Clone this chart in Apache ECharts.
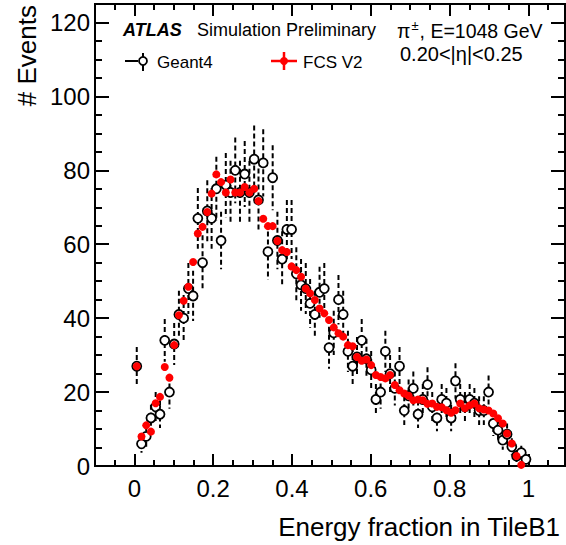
<!DOCTYPE html>
<html>
<head>
<meta charset="utf-8">
<script src="https://cdn.jsdelivr.net/npm/echarts@6/dist/echarts.min.js"></script>
<style>
html,body{margin:0;padding:0;background:#fff;}
#chart{width:566px;height:545px;}
</style>
</head>
<body>
<div id="chart"></div>
<script>
// Bin centres (84 bins between 0 and 1)
const binCenters = [0.006,0.018,0.030,0.042,0.054,0.065,0.077,0.089,0.101,0.113,
  0.125,0.137,0.149,0.161,0.173,0.185,0.196,0.208,0.220,0.232,
  0.244,0.256,0.268,0.280,0.292,0.304,0.315,0.327,0.339,0.351,
  0.363,0.375,0.387,0.399,0.411,0.423,0.435,0.446,0.458,0.470,
  0.482,0.494,0.506,0.518,0.530,0.542,0.554,0.565,0.577,0.589,
  0.601,0.613,0.625,0.637,0.649,0.661,0.673,0.685,0.696,0.708,
  0.720,0.732,0.744,0.756,0.768,0.780,0.792,0.804,0.815,0.827,
  0.839,0.851,0.863,0.875,0.887,0.899,0.911,0.923,0.935,0.946,
  0.958,0.970,0.982,0.994];

// Geant4 events per bin
const geant4 = [27,6,8,13,16,14,34,20,33,41,
  40,48,46,67,55,69,67,75,61,76,
  74,80,74,79,74,83,72,82,58,78,
  61,56,64,64,52,49,48,44,41,47,
  48,32,36,45,41,31,27,29.5,34,29,
  26,18,20,31,25,21,27,15,19,21,
  14,18,22,16,13,18,17,13,23,18,
  16,18,17,15,15,20,11.5,9.7,7,8.6,
  5.2,2.7,3.6,1.8];

// Geant4 statistical uncertainties
const geant4Err = [5.2,2.4,2.8,3.6,4.0,3.7,5.8,4.5,5.7,6.4,
  6.3,6.9,6.8,8.2,7.4,8.3,8.2,8.7,7.8,8.7,
  8.6,8.9,8.6,8.9,8.6,9.1,8.5,9.1,7.6,8.8,
  7.8,7.5,8.0,8.0,7.2,7.0,6.9,6.6,6.4,6.9,
  6.9,5.7,6.0,6.7,6.4,5.6,5.2,5.4,5.8,5.4,
  5.1,4.2,4.5,5.6,5.0,4.6,5.2,3.9,4.4,4.6,
  3.7,4.2,4.7,4.0,3.6,4.2,4.1,3.6,4.8,4.2,
  4.0,4.2,4.1,3.9,3.9,4.5,3.4,3.1,2.6,2.9,
  2.3,1.6,1.9,1.3];

// FCS V2 events per bin
const fcsV2 = [27,8,11,9.3,17,18.7,26.8,23.9,32.7,40.8,
  44.7,48.5,55.2,62.9,64.7,68.7,73.7,78.9,76.8,74,
  77.5,74,74,75.5,74,75,71.7,66.9,64.9,64.9,
  60.9,58.4,57.9,54,53,51.2,48,46.7,44.9,42.6,
  41.3,39.5,37.5,35.9,35,32.7,32.4,29.5,28.5,28.8,
  27.3,24.6,24.1,23.7,24.6,21.9,20.5,19.6,19,17.8,
  18,17.8,16.8,16.9,16,15.9,15.1,14.4,15.1,16.9,
  15.6,16.4,16.9,15.6,15.3,15,14.2,12.9,11.5,8.8,
  6.1,2.7,0.3,null];

const xTickLabels = [0, 0.2, 0.4, 0.6, 0.8, 1];
const yTickLabels = [0, 20, 40, 60, 80, 100, 120];

const FONT = '"Liberation Sans", Arial, sans-serif';
const X_MIN = -0.1, X_MAX = 1.093, Y_MIN = 0, Y_MAX = 125;

const xMinor = [];
for (let k = -1; k <= 21; k++) { const v = +(k * 0.05).toFixed(2); if (v > X_MIN && v < X_MAX) xMinor.push(v); }
const yMinor = [];
for (let v = 5; v < Y_MAX; v += 5) yMinor.push(v);

function xAx(pos, ticks, len, labels) {
  return {
    type: 'value', position: pos, min: X_MIN, max: X_MAX,
    axisLine: { show: true, onZero: false, lineStyle: { color: '#000', width: 2 } },
    axisTick: { show: true, inside: true, length: len, customValues: ticks, lineStyle: { color: '#000', width: 2 } },
    axisLabel: labels ? { show: true, customValues: ticks, margin: 10, color: '#000', fontSize: 24, fontFamily: FONT } : { show: false },
    splitLine: { show: false }
  };
}
function yAx(pos, ticks, len, labels) {
  return {
    type: 'value', position: pos, min: Y_MIN, max: Y_MAX,
    axisLine: { show: true, onZero: false, lineStyle: { color: '#000', width: 2 } },
    axisTick: { show: true, inside: true, length: len, customValues: ticks, lineStyle: { color: '#000', width: 2 } },
    axisLabel: labels ? { show: true, customValues: ticks, margin: 5, color: '#000', fontSize: 24, fontFamily: FONT } : { show: false },
    splitLine: { show: false }
  };
}

const errData = binCenters.map((x, i) => [x, geant4[i], geant4Err[i]]);
const g4Data = binCenters.map((x, i) => [x, geant4[i]]);
const fcsData = binCenters.map((x, i) => [x, fcsV2[i]]).filter(d => d[1] !== null);

const chart = echarts.init(document.getElementById('chart'), null, { renderer: 'svg' });
chart.setOption({
  animation: false,
  backgroundColor: '#fff',
  grid: { left: 95, right: 1, top: 4, bottom: 79, containLabel: false },
  xAxis: [
    xAx('bottom', xTickLabels, 12, true),
    xAx('bottom', xMinor, 6, false),
    xAx('top', xTickLabels, 12, false),
    xAx('top', xMinor, 6, false)
  ],
  yAxis: [
    yAx('left', yTickLabels, 14, true),
    yAx('left', yMinor, 7, false),
    yAx('right', yTickLabels, 14, false),
    yAx('right', yMinor, 7, false)
  ],
  series: [
    {
      type: 'custom', name: 'Geant4 err', xAxisIndex: 0, yAxisIndex: 0, clip: true, z: 2,
      data: errData,
      renderItem: function (params, api) {
        const x = api.value(0), y = api.value(1), e = api.value(2);
        const p1 = api.coord([x, y + e]);
        const p2 = api.coord([x, Math.max(0, y - e)]);
        return { type: 'line', shape: { x1: p1[0], y1: p1[1], x2: p2[0], y2: p2[1] },
          style: { stroke: '#000', lineWidth: 2, lineDash: [5, 3] } };
      }
    },
    {
      type: 'scatter', name: 'Geant4', xAxisIndex: 0, yAxisIndex: 0, z: 3,
      data: g4Data, symbol: 'circle', symbolSize: 9,
      itemStyle: { color: '#fff', borderColor: '#000', borderWidth: 1.8, opacity: 1 }
    },
    {
      type: 'scatter', name: 'FCS V2', xAxisIndex: 0, yAxisIndex: 0, z: 4,
      data: fcsData, symbol: 'circle', symbolSize: 8,
      itemStyle: { color: '#ff0000', opacity: 1 }
    }
  ],
  graphic: [
    { type: 'text', x: 123, y: 30, style: { text: 'ATLAS', font: 'italic bold 18px ' + FONT, fill: '#000', textVerticalAlign: 'middle' } },
    { type: 'text', x: 197, y: 30, style: { text: 'Simulation Preliminary', font: '18px ' + FONT, fill: '#000', textVerticalAlign: 'middle' } },
    { type: 'text', x: 397, y: 30, style: {
        text: '{a|π}{s|±}{a|, E=1048 GeV}', fill: '#000', textVerticalAlign: 'middle',
        rich: {
          a: { fontSize: 19.5, fontFamily: FONT, lineHeight: 22, verticalAlign: 'bottom' },
          s: { fontSize: 13, fontFamily: FONT, lineHeight: 22, verticalAlign: 'top', padding: [0, 1, 0, 1] }
        } } },
    { type: 'text', x: 400, y: 54, style: { text: '0.20<|η|<0.25', font: '20px ' + FONT, fill: '#000', textVerticalAlign: 'middle' } },
    // Geant4 legend glyph
    { type: 'line', shape: { x1: 125, y1: 61, x2: 138, y2: 61 }, style: { stroke: '#000', lineWidth: 2 } },
    { type: 'line', shape: { x1: 143, y1: 53, x2: 143, y2: 71 }, style: { stroke: '#000', lineWidth: 2 } },
    { type: 'circle', shape: { cx: 143, cy: 61, r: 4 }, style: { fill: '#fff', stroke: '#000', lineWidth: 1.8 } },
    { type: 'text', x: 157, y: 62, style: { text: 'Geant4', font: '17px ' + FONT, fill: '#000', textVerticalAlign: 'middle' } },
    // FCS legend glyph
    { type: 'line', shape: { x1: 271, y1: 61, x2: 297, y2: 61 }, style: { stroke: '#ff0000', lineWidth: 2.5 } },
    { type: 'line', shape: { x1: 284, y1: 52, x2: 284, y2: 70 }, style: { stroke: '#ff0000', lineWidth: 2.5 } },
    { type: 'circle', shape: { cx: 284, cy: 61, r: 4 }, style: { fill: '#ff0000' } },
    { type: 'text', x: 303, y: 62, style: { text: 'FCS V2', font: '17px ' + FONT, fill: '#000', textVerticalAlign: 'middle' } },
    // axis titles
    { type: 'text', x: 560, y: 527, style: { text: 'Energy fraction in TileB1', font: '26px ' + FONT, fill: '#000', textAlign: 'right', textVerticalAlign: 'middle' } },
    { type: 'text', x: 27, y: 5, rotation: Math.PI / 2, style: { text: '# Events', font: '26px ' + FONT, fill: '#000', textAlign: 'right', textVerticalAlign: 'middle' } }
  ]
});
</script>
</body>
</html>
